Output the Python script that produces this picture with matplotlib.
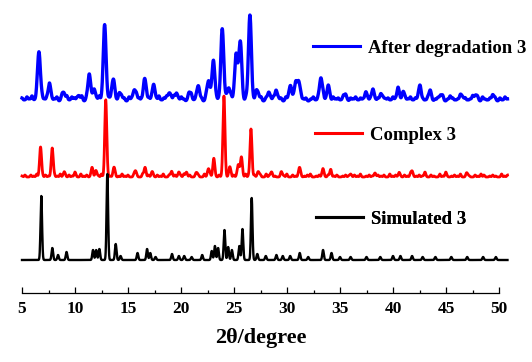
import matplotlib
matplotlib.use("Agg")
import matplotlib.pyplot as plt
import numpy as np
from matplotlib.ticker import MultipleLocator

plt.rcParams["font.family"] = ["Liberation Serif", "DejaVu Serif"]
plt.rcParams["font.weight"] = "bold"

# peak lists: (2theta, height above own baseline)
SIM_POS = [6.82, 7.86, 8.4, 9.2, 11.7, 12.0, 12.3, 13.05, 13.84, 14.3, 15.9, 16.8, 17.1,
           17.6, 19.15, 19.8, 20.3, 21.0, 22.0, 22.9, 23.2, 23.5, 24.1, 24.45, 24.8, 25.5,
           25.8, 26.67, 27.2, 28.0, 29.0, 29.6, 30.3, 31.2, 32.0, 33.4, 34.2, 35.0, 36.0,
           37.5, 38.8, 40.0, 40.7, 41.8, 42.8, 44.0, 45.5, 47.0, 48.5, 49.7]
SIM_H = [64, 12, 5, 8, 10, 10, 11, 86, 16, 4, 7, 11, 7,
         3, 6, 4, 4, 3, 5, 9, 14, 12, 30, 13, 10, 14,
         31, 62, 6, 4, 5, 4, 4, 7, 3, 10, 7, 3, 3,
         3, 3, 4, 4, 4, 3, 3, 3, 3, 3, 3]

CPX_POS = [6.75, 7.85, 9.0, 10.0, 11.6, 12.0, 12.9, 13.7, 15.7, 16.6, 17.3, 19.1, 19.8,
           20.5, 21.5, 22.6, 23.1, 24.05, 24.6, 25.4, 25.7, 26.6, 27.3, 28.5, 29.5, 31.2,
           33.4, 34.1, 36.0, 38.3, 40.6, 41.8, 43.0, 45.0, 47.0]
CPX_H = [30, 29, 5, 3, 9, 5, 77, 9, 6, 9, 5, 5, 5,
         4, 4, 8, 18, 80, 10, 12, 20, 48, 5, 4, 4, 9,
         8, 5, 3, 4, 4, 6, 3, 3, 3]

DEG_POS = [6.6, 7.6, 8.9, 10.3, 11.35, 11.8, 12.8, 13.6, 14.3, 15.6, 16.6, 17.4, 18.9,
           19.6, 20.8, 21.6, 22.6, 23.05, 23.9, 24.5, 25.2, 25.6, 26.5, 27.2, 28.3, 29.0,
           30.3, 30.8, 31.1, 33.2, 33.9, 35.5, 37.5, 38.1, 39.0, 40.5, 41.0, 42.5, 43.5,
           44.5, 46.5, 47.8, 49.5]
DEG_H = [49, 13, 7, 4, 23, 9, 73, 19, 5, 10, 20, 13, 8,
         5, 6, 12, 18, 37, 70, 12, 44, 58, 84, 8, 7, 6,
         13, 13, 18, 21, 13, 5, 6, 8, 5, 9, 7, 12, 7,
         5, 5, 5, 3]

# baseline roughness of the measured patterns
DEG_NOISE = [3, 1, 4, 2, 5, 1, 3, 0, 4, 2, 3, 5, 1, 2, 4, 0, 3, 2, 5, 1, 4, 3, 1, 2, 5, 0, 3, 4,
             1, 3, 2, 5, 1, 4, 0, 3, 2, 4, 1, 5, 2, 3, 0, 4, 2, 1, 5, 3, 2, 4, 0, 3, 1, 4, 2, 5,
             1, 3, 4, 0, 2, 5, 3, 1, 4, 2, 0, 3, 5, 1, 2, 4, 3, 0, 5, 2, 1, 4, 3, 2, 5, 0, 3, 1,
             4, 2, 3, 5, 1, 0, 4, 2, 3, 1, 5, 2, 4, 0, 3, 2, 1, 4, 5, 2, 3, 0, 4, 1, 3, 2, 5, 1,
             4, 2, 3, 0, 2, 4, 1, 3, 2, 4, 1, 3, 0, 4, 2, 3, 1, 4, 2, 0, 3, 2, 4, 1, 3, 2, 4, 0,
             2, 4, 1, 3, 5, 0, 2, 3, 1, 4, 2, 5, 0, 3, 1, 2, 4, 1, 3, 0, 5, 2, 1, 3, 4, 0, 2, 3,
             1, 4, 0, 2, 5, 3, 1, 2, 4, 0, 3, 1, 2, 5, 1, 3, 0, 4, 2, 1, 3, 4, 2, 0, 3, 1, 4, 2]
CPX_NOISE = [1, 2, 0, 2, 1, 3, 0, 1, 2, 1, 0, 2, 1, 3, 1, 0, 2, 1, 2, 0, 3, 1, 2, 0, 1, 2, 1, 3,
             0, 2, 1, 2, 0, 1, 3, 1, 2, 0, 2, 1, 0, 3, 1, 2, 1, 0, 2, 1, 3, 0, 2, 1, 2, 0, 1, 3,
             1, 2, 0, 2, 1, 0, 3, 1, 2, 1, 0, 2, 1, 3, 0, 1, 2, 1, 2, 0, 3, 1, 0, 2, 1, 2, 0, 3,
             1, 2, 1, 0, 2, 1, 3, 0, 2, 1, 2, 0, 1, 2, 3, 0, 1, 2, 1, 0, 2, 3, 1, 2, 0, 1, 2, 1,
             0, 2, 1, 3, 0, 1, 2, 1, 0, 2, 1, 2, 0, 3, 1, 2, 1, 0, 2, 1, 3, 0, 1, 2, 1, 2, 0,
             2, 1, 0, 3, 1, 2, 0, 1, 2, 1, 3, 0, 2, 1, 0, 2, 1, 3, 2, 0, 1, 2, 1, 0, 3, 1, 2]

BASE = {"sim": 33, "cpx": 116, "deg": 194}
LABELS = ["After degradation 3", "Complex 3", "Simulated 3"]
XTICKS = [5, 10, 15, 20, 25, 30, 35, 40, 45, 50]


def profile(x, pos, h, fwhm):
    s = fwhm / 2.355
    y = np.zeros_like(x)
    for p, a in zip(pos, h):
        y += a * np.exp(-0.5 * ((x - p) / s) ** 2)
    return y


x = np.linspace(5.0, 50.8, 4000)
npos_d = np.linspace(5.0, 50.8, len(DEG_NOISE))
npos_c = np.linspace(5.0, 50.8, len(CPX_NOISE))
y_sim = BASE["sim"] + profile(x, SIM_POS, SIM_H, 0.17)
y_cpx = BASE["cpx"] + profile(x, CPX_POS, CPX_H, 0.22) + profile(x, npos_c, CPX_NOISE, 0.16)
y_deg = BASE["deg"] + profile(x, DEG_POS, DEG_H, 0.32) + profile(x, npos_d, DEG_NOISE, 0.2) - 2

fig = plt.figure(figsize=(5.32, 3.62), dpi=100)
ax = fig.add_axes([22 / 532, 69 / 362, 477 / 532, 288 / 362])
l_deg, = ax.plot(x, y_deg, color="#0000ff", lw=2.4, clip_on=False)
l_cpx, = ax.plot(x, y_cpx, color="#ff0000", lw=2.0, clip_on=False)
l_sim, = ax.plot(x, y_sim, color="#000000", lw=1.7, clip_on=False)

ax.set_xlim(5, 50)
ax.set_ylim(0, 288)
for s in ("left", "right", "top"):
    ax.spines[s].set_visible(False)
ax.spines["bottom"].set_linewidth(0.9)
ax.set_yticks([])
ax.set_xticks(XTICKS)
ax.xaxis.set_minor_locator(MultipleLocator(2.5))
ax.tick_params(axis="x", which="major", direction="in", length=4, width=0.9,
               labelsize=12.5, pad=6)
ax.tick_params(axis="x", which="minor", direction="in", length=2.5, width=0.9)
ax.set_xlabel("2θ/degree", fontsize=16, fontweight="bold", labelpad=8)

for line, lab, (fx, fy) in zip([l_deg, l_cpx, l_sim], LABELS,
                               [(313, 48), (315, 135), (316, 219)]):
    leg = ax.legend([line], [lab], loc="center left", frameon=False,
                    bbox_to_anchor=(fx / 532, 1 - fy / 362), bbox_transform=fig.transFigure,
                    borderpad=0, borderaxespad=0, handlelength=2.5, handletextpad=0.45,
                    prop={"size": 13.5, "weight": "bold"})
    for h in leg.legend_handles:
        h.set_linewidth(2.2)
    ax.add_artist(leg)

fig.savefig("out.png", dpi=100)
